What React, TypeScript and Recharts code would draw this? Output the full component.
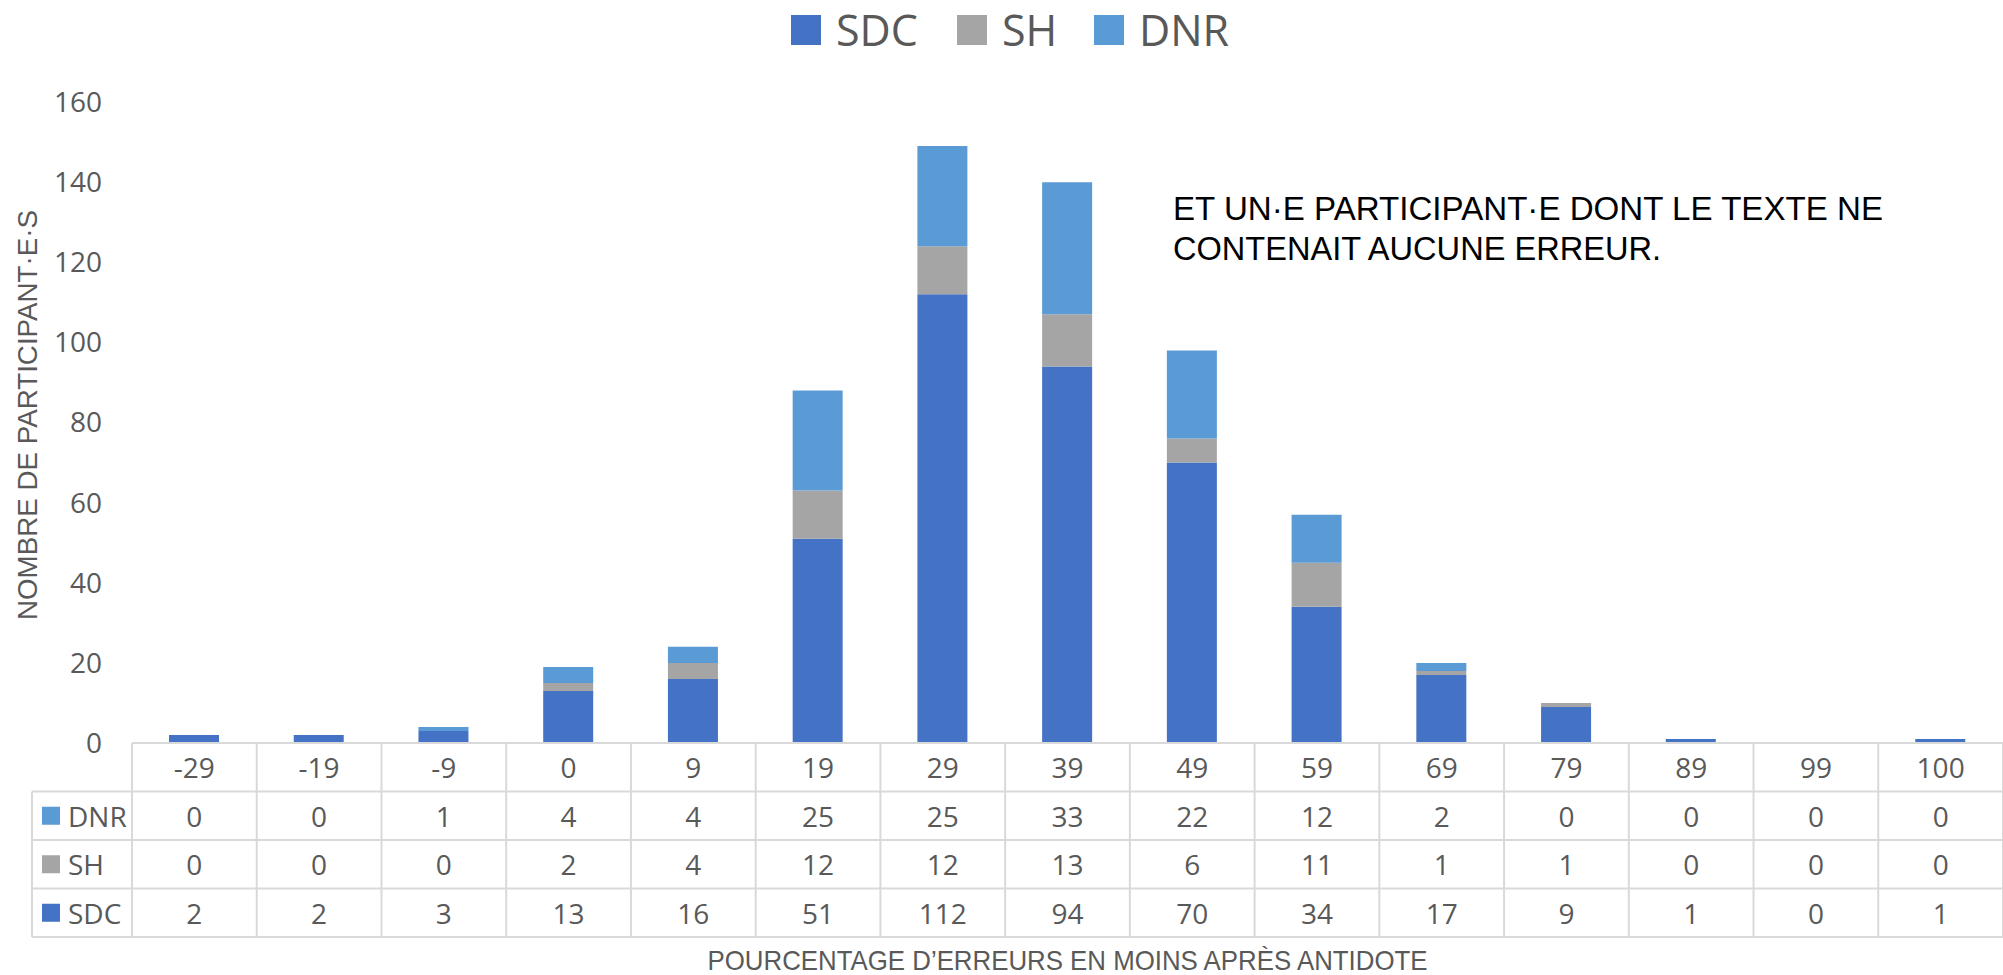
import React from 'react';
import { BarChart, Bar, XAxis, YAxis } from 'recharts';

const categories = ['-29', '-19', '-9', '0', '9', '19', '29', '39', '49', '59', '69', '79', '89', '99', '100'];
const sdcValues = [2, 2, 3, 13, 16, 51, 112, 94, 70, 34, 17, 9, 1, 0, 1];
const shValues = [0, 0, 0, 2, 4, 12, 12, 13, 6, 11, 1, 1, 0, 0, 0];
const dnrValues = [0, 0, 1, 4, 4, 25, 25, 33, 22, 12, 2, 0, 0, 0, 0];
const yTicks = [0, 20, 40, 60, 80, 100, 120, 140, 160];

const yTitle = 'NOMBRE DE PARTICIPANT·E·S';
const xTitle = 'POURCENTAGE D’ERREURS EN MOINS APRÈS ANTIDOTE';
const noteLines = ['ET UN·E PARTICIPANT·E DONT LE TEXTE NE', 'CONTENAIT AUCUNE ERREUR.'];

// table rows, top to bottom as in the data table
const tableRows = [
  { name: 'DNR', color: '#5B9BD5', values: dnrValues },
  { name: 'SH', color: '#A5A5A5', values: shValues },
  { name: 'SDC', color: '#4472C4', values: sdcValues },
];

const data = categories.map((cat, i) => ({
  cat,
  sdc: sdcValues[i],
  sh: shValues[i],
  dnr: dnrValues[i],
}));

const W = 2003;
const H = 975;
const PLOT_LEFT = 132;
const PLOT_TOP = 102;
const PLOT_BOTTOM = 743;
const COL_W = (W - PLOT_LEFT) / categories.length;
const ROW_H = 48.5;
const GRID = '#D9D9D9';
const TXT = '#595959';
const FONT = '"Open Sans", "DejaVu Sans", sans-serif';
const NARROW = '"Liberation Sans Narrow", "Liberation Sans", sans-serif';

const TableTick: React.FC<any> = ({ x, y, payload }) => {
  const i = payload.index;
  const left = x - COL_W / 2;
  const right = x + COL_W / 2;
  const bottom = y + ROW_H * 4;
  return (
    <g>
      <line x1={left} y1={y} x2={left} y2={bottom} stroke={GRID} strokeWidth={2} />
      {i === categories.length - 1 && (
        <line x1={right} y1={y} x2={right} y2={bottom} stroke={GRID} strokeWidth={2} />
      )}
      {[1, 2, 3, 4].map(r => (
        <line key={r} x1={left} y1={y + r * ROW_H} x2={right} y2={y + r * ROW_H} stroke={GRID} strokeWidth={2} />
      ))}
      <text x={x} y={y + ROW_H / 2} textAnchor="middle" dominantBaseline="central"
        fill={TXT} fontSize={28} fontFamily={FONT}>
        {payload.value}
      </text>
      {tableRows.map((row, r) => (
        <text key={row.name} x={x} y={y + ROW_H * (r + 1.5)} textAnchor="middle" dominantBaseline="central"
          fill={TXT} fontSize={28} fontFamily={FONT}>
          {row.values[i]}
        </text>
      ))}
    </g>
  );
};

const legendItems = [
  { name: 'SDC', color: '#4472C4', x: 791 },
  { name: 'SH', color: '#A5A5A5', x: 957 },
  { name: 'DNR', color: '#5B9BD5', x: 1094 },
];

export default function App() {
  return (
    <div style={{ position: 'absolute', left: 0, top: 0, width: W, height: H, background: '#fff' }}>
      <BarChart
        width={W}
        height={H}
        data={data}
        margin={{ top: PLOT_TOP, right: 0, bottom: 32, left: PLOT_LEFT - 80 }}
        barSize={50}
      >
        <YAxis
          width={80}
          domain={[0, 160]}
          ticks={yTicks}
          axisLine={false}
          tickLine={false}
          tickSize={0}
          tickMargin={30}
          tick={{ fill: TXT, fontSize: 28, fontFamily: FONT }}
        />
        <XAxis
          dataKey="cat"
          height={200}
          interval={0}
          tickLine={false}
          tickSize={0}
          tickMargin={0}
          axisLine={{ stroke: GRID, strokeWidth: 2 }}
          tick={<TableTick />}
        />
        <Bar dataKey="sdc" stackId="a" fill="#4472C4" isAnimationActive={false} />
        <Bar dataKey="sh" stackId="a" fill="#A5A5A5" isAnimationActive={false} />
        <Bar dataKey="dnr" stackId="a" fill="#5B9BD5" isAnimationActive={false} />
      </BarChart>
      <svg width={W} height={H} style={{ position: 'absolute', left: 0, top: 0, pointerEvents: 'none' }}>
        {legendItems.map(it => (
          <g key={it.name}>
            <rect x={it.x} y={15} width={30} height={30} fill={it.color} />
            <text x={it.x + 45} y={46} fill={TXT} fontSize={43} fontFamily={FONT}>{it.name}</text>
          </g>
        ))}
        <text x={27} y={415} transform="rotate(-90, 27, 415)" textAnchor="middle" dominantBaseline="central"
          fill={TXT} fontSize={28} fontFamily={NARROW} textLength={410} lengthAdjust="spacingAndGlyphs">
          {yTitle}
        </text>
        <text x={(PLOT_LEFT + W) / 2} y={970} textAnchor="middle" fill={TXT} fontSize={28}
          fontFamily={NARROW} textLength={720} lengthAdjust="spacingAndGlyphs">
          {xTitle}
        </text>
        <text x={1173} y={220} fill="#000" fontSize={34} fontFamily={NARROW}
          textLength={710} lengthAdjust="spacingAndGlyphs">{noteLines[0]}</text>
        <text x={1173} y={260} fill="#000" fontSize={34} fontFamily={NARROW}
          textLength={488} lengthAdjust="spacingAndGlyphs">{noteLines[1]}</text>
        {/* row label column of the data table */}
        <line x1={32} y1={PLOT_BOTTOM + ROW_H} x2={32} y2={PLOT_BOTTOM + ROW_H * 4} stroke={GRID} strokeWidth={2} />
        {[1, 2, 3, 4].map(r => (
          <line key={r} x1={32} y1={PLOT_BOTTOM + r * ROW_H} x2={PLOT_LEFT} y2={PLOT_BOTTOM + r * ROW_H}
            stroke={GRID} strokeWidth={2} />
        ))}
        {tableRows.map((row, r) => (
          <g key={row.name}>
            <rect x={42} y={PLOT_BOTTOM + ROW_H * (r + 1.5) - 9} width={18} height={18} fill={row.color} />
            <text x={68} y={PLOT_BOTTOM + ROW_H * (r + 1.5)} dominantBaseline="central" fill={TXT}
              fontSize={28} fontFamily={FONT}>{row.name}</text>
          </g>
        ))}
      </svg>
    </div>
  );
}
